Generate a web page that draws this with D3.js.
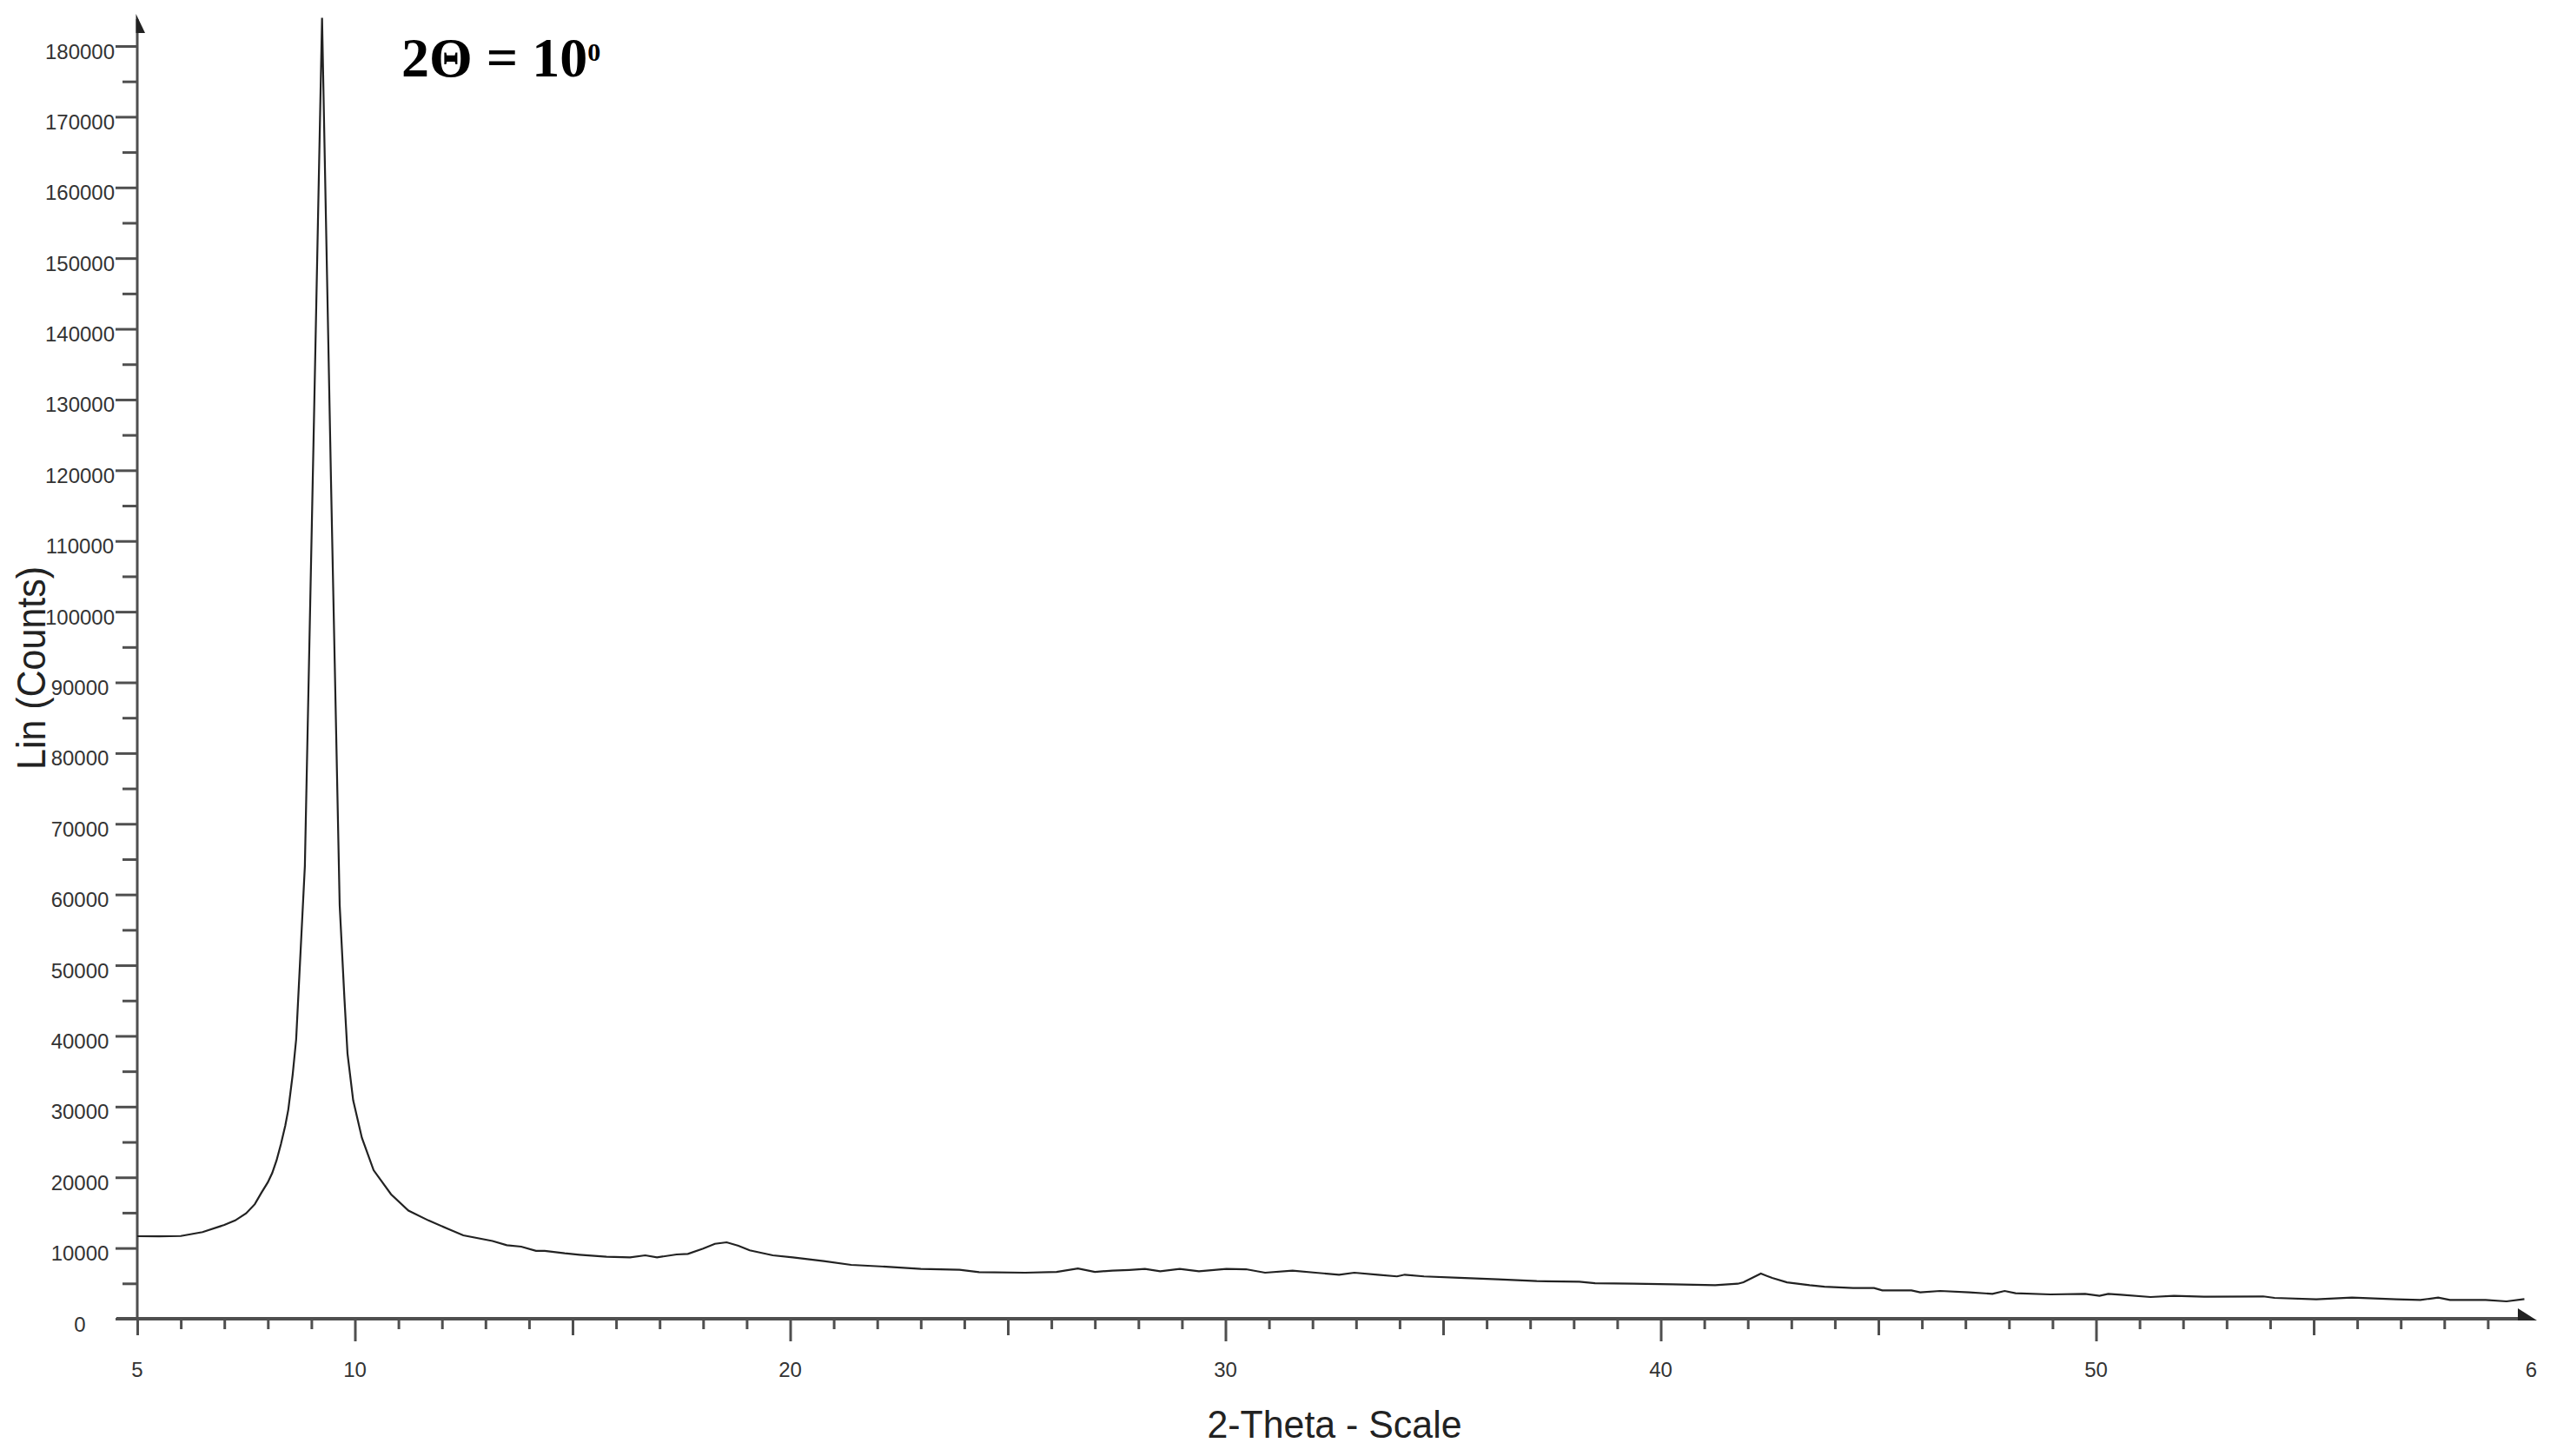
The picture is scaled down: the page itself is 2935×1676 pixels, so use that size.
<!DOCTYPE html>
<html>
<head>
<meta charset="utf-8">
<script src="https://cdn.jsdelivr.net/npm/d3@7"></script>
<style>
  html, body { margin: 0; padding: 0; background: #fff; }
  svg { display: block; }
</style>
</head>
<body>
<script>
// ---- data ----
const twoTheta = [5.00,5.50,6.00,6.50,7.00,7.25,7.50,7.70,7.85,8.00,8.10,8.20,8.30,8.40,8.47,8.57,8.65,8.85,9.05,9.245,9.45,9.65,9.76,9.83,9.96,10.16,10.43,10.83,11.23,11.69,12.16,12.49,13.16,13.49,13.82,14.16,14.36,14.82,15.16,15.78,16.32,16.67,16.94,17.39,17.65,18.00,18.27,18.54,18.81,19.07,19.60,20.06,20.77,21.40,22.29,23.00,23.89,24.34,25.40,26.12,26.61,27.00,27.40,27.79,28.15,28.50,28.95,29.39,30.02,30.47,30.91,31.54,32.07,32.61,32.96,33.50,33.94,34.12,34.56,35.37,36.26,37.15,38.13,38.49,39.37,40.27,41.25,41.77,41.90,42.30,42.56,42.90,43.42,43.76,44.42,44.90,45.09,45.76,45.96,46.42,47.09,47.62,47.90,48.15,48.95,49.75,50.08,50.28,50.57,51.25,51.79,52.48,53.84,54.10,55.06,55.88,56.90,57.45,57.86,58.13,58.95,59.43,59.84];
const counts = [11670,11650,11700,12250,13270,13900,14900,16200,17800,19300,20600,22400,24700,27300,29600,34500,39500,64000,124300,184000,118700,58500,45200,37500,30900,25600,21000,17600,15300,13900,12650,11800,11000,10400,10200,9600,9600,9250,9050,8760,8680,8970,8680,9090,9170,9910,10600,10810,10320,9670,8970,8680,8150,7620,7330,7040,6920,6600,6510,6630,7120,6630,6800,6900,7040,6720,7040,6720,7040,7000,6510,6800,6510,6230,6510,6230,5990,6230,5990,5780,5570,5320,5240,5030,4950,4870,4750,4950,5150,6380,5770,5150,4750,4540,4340,4340,4010,4010,3730,3930,3730,3520,3930,3600,3440,3520,3240,3520,3400,3070,3240,3120,3160,2950,2740,2990,2740,2660,2990,2660,2660,2460,2780];

const xTickValues = [5, 10, 20, 30, 40, 50, 60];
const xTickLabels = ["5", "10", "20", "30", "40", "50", "6"];
const yTickValues = [0,10000,20000,30000,40000,50000,60000,70000,80000,90000,100000,110000,120000,130000,140000,150000,160000,170000,180000];
const yTickLabels = ["0","10000","20000","30000","40000","50000","60000","70000","80000","90000","100000","110000","120000","130000","140000","150000","160000","170000","180000"];
const xTitle = "2-Theta - Scale";
const yTitle = "Lin (Counts)";

// ---- layout ----
const W = 2935, H = 1676;
const axisColor = "#4f4f4f";
const svg = d3.select("body").append("svg").attr("width", W).attr("height", H);

const x = d3.scaleLinear().domain([5, 60]).range([158, 2913.5]);
const y = d3.scaleLinear().domain([0, 180000]).range([1518, 53]);

// minor / mid / major x ticks
const xMinor = d3.range(5, 60, 1).filter(v => v % 5 !== 0);
const xFive = d3.range(5, 60, 5).filter(v => v % 10 !== 0);
const xTen = d3.range(10, 60, 10);

function tickAxis(gen, vals, size) {
  const g = svg.append("g").call(gen.tickValues(vals).tickSize(size).tickFormat(""));
  g.select(".domain").remove();
  g.selectAll(".tick line").attr("stroke", axisColor).attr("stroke-width", 3);
  return g;
}
tickAxis(d3.axisBottom(x), xMinor, 12).attr("transform", `translate(0,${y(0)})`);
tickAxis(d3.axisBottom(x), xFive, 19).attr("transform", `translate(0,${y(0)})`);
tickAxis(d3.axisBottom(x), xTen, 26).attr("transform", `translate(0,${y(0)})`);

const yMinor = d3.range(5000, 180000, 10000);
tickAxis(d3.axisLeft(y), yMinor, 17).attr("transform", `translate(${x(5)},0)`);
tickAxis(d3.axisLeft(y), yTickValues, 25).attr("transform", `translate(${x(5)},0)`);

// axis lines
svg.append("line").attr("x1", x(5) - 24).attr("x2", 2904).attr("y1", y(0)).attr("y2", y(0))
  .attr("stroke", axisColor).attr("stroke-width", 4);
svg.append("line").attr("x1", x(5)).attr("x2", x(5)).attr("y1", y(0)).attr("y2", 22)
  .attr("stroke", axisColor).attr("stroke-width", 3);
// arrow heads (half wedges)
svg.append("path").attr("d", `M${x(5) - 1.5},16 L${x(5) + 9},38 L${x(5) - 1.5},38 Z`).attr("fill", "#222");
svg.append("path").attr("d", `M2898,1506 L2920,${y(0) + 2} L2898,${y(0) + 2} Z`).attr("fill", "#222");

// tick labels
svg.append("g").selectAll("text").data(xTickValues).join("text")
  .attr("x", d => x(d)).attr("y", 1585)
  .attr("text-anchor", "middle")
  .attr("font-family", "'Liberation Sans', Arial, sans-serif")
  .attr("font-size", 24).attr("fill", "#333")
  .text((d, i) => xTickLabels[i]);

svg.append("g").selectAll("text").data(yTickValues).join("text")
  .attr("x", 92).attr("y", d => y(d) + 14.5)
  .attr("text-anchor", "middle")
  .attr("font-family", "'Liberation Sans', Arial, sans-serif")
  .attr("font-size", 24).attr("fill", "#333")
  .text((d, i) => yTickLabels[i]);

// axis titles
svg.append("text").attr("x", 1536).attr("y", 1655)
  .attr("text-anchor", "middle")
  .attr("font-family", "'Liberation Sans', Arial, sans-serif")
  .attr("font-size", 44).attr("fill", "#222")
  .attr("textLength", 293).attr("lengthAdjust", "spacingAndGlyphs")
  .text(xTitle);

svg.append("text").attr("transform", "translate(52,769) rotate(-90)")
  .attr("text-anchor", "middle")
  .attr("font-family", "'Liberation Sans', Arial, sans-serif")
  .attr("font-size", 46).attr("fill", "#222")
  .attr("textLength", 234).attr("lengthAdjust", "spacingAndGlyphs")
  .text(yTitle);

// annotation
const ann = svg.append("text").attr("x", 462).attr("y", 88)
  .attr("font-family", "'Liberation Serif', 'Times New Roman', serif")
  .attr("font-weight", "bold").attr("font-size", 64).attr("fill", "#000");
ann.append("tspan").text("2Θ = 10");
ann.append("tspan").attr("font-size", 30).attr("dy", -18).text("0");

// data line
const line = d3.line().x((d, i) => x(twoTheta[i])).y((d, i) => y(counts[i]));
svg.append("path").datum(counts).attr("d", line)
  .attr("fill", "none").attr("stroke", "#222").attr("stroke-width", 2.2)
  .attr("stroke-linejoin", "miter").attr("stroke-miterlimit", 20);
</script>
</body>
</html>
